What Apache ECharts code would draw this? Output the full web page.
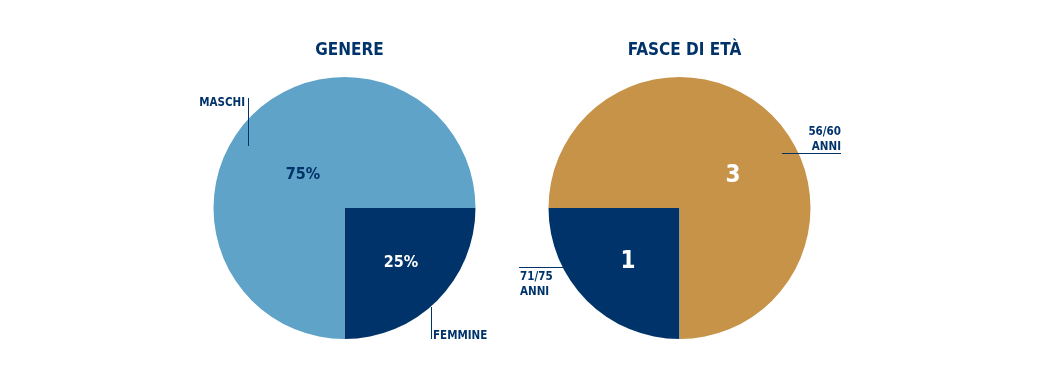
<!DOCTYPE html>
<html>
<head>
<meta charset="utf-8">
<script src="https://cdn.jsdelivr.net/npm/echarts@6/dist/echarts.min.js"></script>
<style>
html,body{margin:0;padding:0;background:#fff;}
#chart{width:1043px;height:366px;}
</style>
</head>
<body>
<div id="chart"></div>
<script>
// ---- data ----
const titles = ['GENERE', 'FASCE DI ETÀ'];
const genereLabels = ['FEMMINE', 'MASCHI'];
const genereValues = [25, 75];
const etaLabels = ['71/75\nANNI', '56/60\nANNI'];
const etaValues = [1, 3];

// ---- styles ----
const NAVY = '#00336a';
const LIGHT = '#5fa3c8';
const GOLD = '#c69348';
const FONT = '"Liberation Sans Narrow", "DejaVu Sans Condensed", "Noto Sans", sans-serif';

const chart = echarts.init(document.getElementById('chart'), null, {renderer: 'canvas'});

// label layouts (annotation positions)
const innerPos = {
  g: [{x: 401, y: 263}, {x: 303, y: 175}],
  e: [{x: 628, y: 262}, {x: 733, y: 176}]
};
const outerPos = {
  g: [
    {x: 433, y: 336, align: 'left', verticalAlign: 'middle', line: [[431.5, 307], [431.5, 323], [431.5, 339]]},
    {x: 245, y: 103, align: 'right', verticalAlign: 'middle', line: [[248.5, 98], [248.5, 122], [248.5, 146]]}
  ],
  e: [
    {x: 520, y: 270, align: 'left', verticalAlign: 'top', line: [[519, 267.5], [540, 267.5], [564, 267.5]]},
    {x: 841, y: 155, align: 'right', verticalAlign: 'bottom', line: [[782, 153.5], [810, 153.5], [841, 153.5]]}
  ]
};

function mk(names, values, colors) {
  return names.map((n, i) => ({name: n, value: values[i], itemStyle: {color: colors[i]}}));
}

const center1 = [344.5, 208];
const center2 = [679.5, 208];
const R = 131;

const option = {
  animation: false,
  title: [
    {text: titles[0], left: 344.5, top: 37, textAlign: 'center',
     textStyle: {fontFamily: FONT, fontSize: 17, fontWeight: 'bold', color: NAVY}},
    {text: titles[1], left: 679.5, top: 37, textAlign: 'center',
     textStyle: {fontFamily: FONT, fontSize: 17, fontWeight: 'bold', color: NAVY}}
  ],
  series: [
    {
      type: 'pie', center: center1, radius: R, startAngle: 0, clockwise: true,
      avoidLabelOverlap: false, silent: true,
      data: mk(genereLabels, genereValues, [NAVY, LIGHT]),
      label: {
        show: true, position: 'inside', fontFamily: FONT, fontSize: 16, fontWeight: 'bold',
        formatter: p => p.value + '%',
        color: '#fff'
      },
      labelLine: {show: false},
      labelLayout: p => Object.assign({align: 'center', verticalAlign: 'middle'}, innerPos.g[p.dataIndex])
    },
    {
      type: 'pie', center: center2, radius: R, startAngle: 270, clockwise: true,
      avoidLabelOverlap: false, silent: true,
      data: mk(etaLabels, etaValues, [NAVY, GOLD]),
      label: {
        show: true, position: 'inside', fontFamily: FONT, fontSize: 24, fontWeight: 'bold',
        formatter: p => String(p.value), color: '#fff'
      },
      labelLine: {show: false},
      labelLayout: p => Object.assign({align: 'center', verticalAlign: 'middle'}, innerPos.e[p.dataIndex])
    },
    {
      type: 'pie', center: center1, radius: R, startAngle: 0, clockwise: true,
      avoidLabelOverlap: false, silent: true, z: 5,
      data: mk(genereLabels, genereValues, ['rgba(0,0,0,0)', 'rgba(0,0,0,0)']),
      label: {show: true, position: 'outside', formatter: '{b}', fontFamily: FONT,
              fontSize: 11.5, fontWeight: 'bold', color: NAVY, lineHeight: 15},
      labelLine: {show: true, length: 0, length2: 0, lineStyle: {color: NAVY, width: 1, opacity: 1}},
      labelLayout: p => {
        const o = outerPos.g[p.dataIndex];
        return {x: o.x, y: o.y, align: o.align, verticalAlign: o.verticalAlign, labelLinePoints: o.line};
      }
    },
    {
      type: 'pie', center: center2, radius: R, startAngle: 270, clockwise: true,
      avoidLabelOverlap: false, silent: true, z: 5,
      data: mk(etaLabels, etaValues, ['rgba(0,0,0,0)', 'rgba(0,0,0,0)']),
      label: {show: true, position: 'outside', formatter: '{b}', fontFamily: FONT,
              fontSize: 11.5, fontWeight: 'bold', color: NAVY, lineHeight: 15},
      labelLine: {show: true, length: 0, length2: 0, lineStyle: {color: NAVY, width: 1, opacity: 1}},
      labelLayout: p => {
        const o = outerPos.e[p.dataIndex];
        return {x: o.x, y: o.y, align: o.align, verticalAlign: o.verticalAlign, labelLinePoints: o.line};
      }
    }
  ]
};
// 75% label is navy on light blue
option.series[0].data[1].label = {color: NAVY};
chart.setOption(option);
</script>
</body>
</html>
